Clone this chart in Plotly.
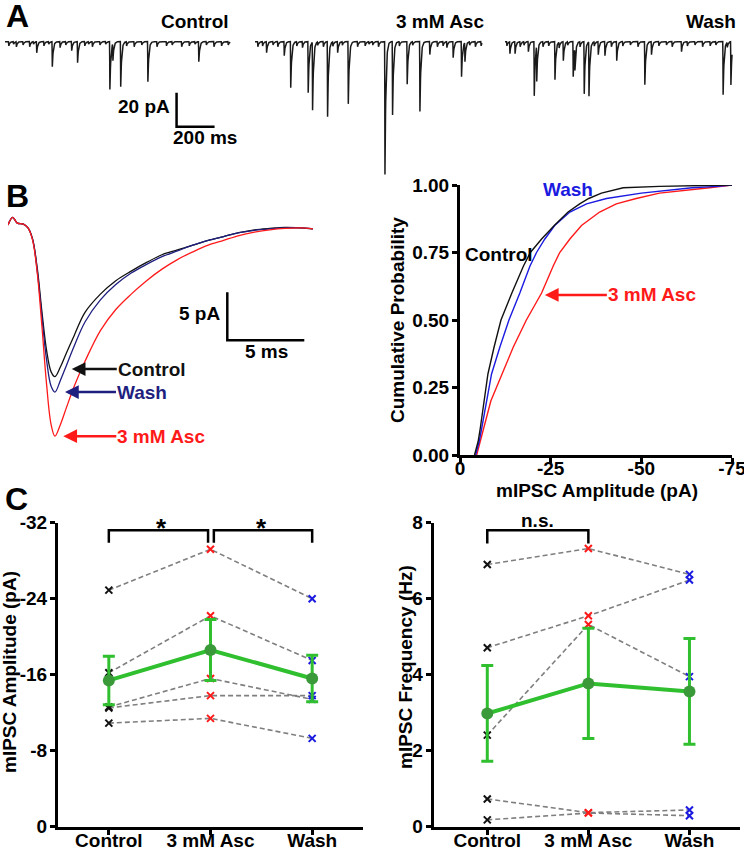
import numpy as np
import plotly.graph_objects as go

W, H = 744, 853
FONT = "Liberation Sans, Arial, sans-serif"


def px(x):
    return x / W


def py(y):
    return 1 - y / H


# ---------------- Panel A: raw traces (event times in ms, amplitudes in pA) --------
trace_labels = ["Control", "3 mM Asc", "Wash"]
ctrl_event_t = [167, 249, 351, 382, 552, 568, 609, 752, 1020]
ctrl_event_a = [6.5, 14.7, 5.3, 12.4, 28.0, 10.0, 26.5, 23.5, 11.8]
ctrl_minor_t = [20, 45, 60, 95, 130, 150, 205, 230, 290, 320, 420, 440, 460, 500, 530, 640, 680, 720, 800,
                850, 880, 930, 970, 1000, 1060, 1100, 1140, 1175]
ctrl_minor_a = [2.5, 1.5, 3.0, 2.0, 3.0, 1.5, 2.5, 1.5, 3.5, 2.0, 2.5, 1.5, 3.0, 2.0, 1.5, 2.5, 3.0, 2.0, 3.0,
                2.5, 2.0, 3.0, 2.5, 1.5, 2.0, 3.0, 2.5, 2.0]

asc_event_t = [61, 154, 188, 280, 303, 382, 435, 491, 684, 724, 801, 868, 920, 1043, 1087, 1105]
asc_event_a = [6.5, 8.2, 27.0, 30.0, 40.0, 44.0, 6.5, 36.5, 78.0, 43.0, 25.0, 41.0, 7.6, 9.4, 20.6, 11.2]
asc_minor_t = [15, 40, 95, 120, 220, 250, 330, 360, 410, 460, 540, 580, 600, 620, 650, 760, 830, 960, 990,
               1010, 1130, 1160, 1190]
asc_minor_a = [3.0, 2.5, 2.0, 3.0, 2.5, 3.5, 2.0, 3.0, 2.5, 2.0, 3.0, 2.5, 1.5, 2.0, 3.0, 2.5, 2.0, 3.0, 2.5,
               3.5, 2.0, 3.0, 2.5]

wash_event_t = [26, 53, 123, 154, 167, 263, 307, 359, 368, 417, 442, 491, 526, 588, 736, 771, 929, 1148, 1189]
wash_event_a = [7.0, 7.0, 5.9, 31.8, 21.0, 22.4, 11.2, 20.6, 13.5, 30.6, 31.8, 7.6, 8.2, 11.2, 25.3, 7.6, 5.9,
                31.2, 25.3]
wash_minor_t = [10, 80, 100, 200, 230, 285, 330, 395, 470, 560, 620, 660, 700, 810, 850, 880, 960, 1000, 1040,
                1080, 1110, 1170]
wash_minor_a = [2.5, 3.0, 2.0, 3.0, 2.5, 3.5, 2.0, 3.0, 2.5, 3.0, 2.5, 2.0, 3.0, 2.5, 2.0, 3.0, 2.5, 2.0, 3.0,
                2.5, 2.0, 3.0]

trace_end_ms = [1185, 1195, 1195]

# ---------------- Panel B left: averaged mIPSC (ms, pA) ---------------------------
ipsc_t = [0, 0.3, 0.6, 1.0, 1.3, 1.6, 1.9, 2.2, 2.5, 2.8, 3.05, 3.4, 3.8, 4.3, 5, 6, 7, 8, 9, 10,
          11, 12, 13, 14, 15, 16, 17, 18, 19, 19.8]
ipsc_control = [0, 0.8, 0.2, 0.1, -0.3, -1.5, -4.5, -9.0, -13.0, -15.3, -15.8, -14.8, -13.3, -11.5, -9.1,
                -7.2, -5.8, -4.8, -3.9, -3.1, -2.6, -2.1, -1.6, -1.2, -0.8, -0.5, -0.35, -0.25, -0.3, -0.4]
ipsc_wash = [0, 0.8, 0.2, 0.1, -0.3, -1.5, -4.8, -9.5, -14.0, -16.8, -17.4, -16.2, -14.6, -12.6, -10.1,
             -7.8, -6.2, -5.0, -4.1, -3.3, -2.7, -2.1, -1.6, -1.2, -0.8, -0.55, -0.4, -0.3, -0.3, -0.4]
ipsc_asc = [0, 0.8, 0.2, 0.1, -0.3, -1.6, -5.0, -10.5, -16.5, -20.8, -22.0, -20.8, -19.0, -16.8, -14.2,
            -11.0, -8.8, -7.2, -5.8, -4.6, -3.6, -2.8, -2.1, -1.6, -1.1, -0.75, -0.5, -0.35, -0.3, -0.4]

# ---------------- Panel B right: cumulative distributions -------------------------
cdf_prob = [0, 0.05, 0.1, 0.2, 0.3, 0.4, 0.5, 0.6, 0.7, 0.75, 0.8, 0.85, 0.9, 0.93, 0.95, 0.97, 0.99, 0.995, 1.0]
cdf_control = [-4.0, -5.0, -5.6, -6.6, -7.7, -9.4, -11.3, -14.3, -17.5, -19.4, -22.5, -26.0, -29.8, -33.0,
               -35.5, -39.0, -45.0, -55.0, -75.0]
cdf_wash = [-4.3, -5.3, -6.0, -7.3, -8.7, -11.0, -13.5, -16.5, -19.3, -21.1, -23.4, -26.1, -30.3, -34.9,
            -40.4, -50.0, -64.0, -71.0, -75.0]
cdf_asc = [-4.6, -5.6, -6.4, -8.5, -11.6, -14.7, -18.3, -22.5, -25.7, -27.5, -30.3, -33.5, -38.5, -43.1,
           -48.6, -55.0, -68.8, -73.0, -75.0]

# ---------------- Panel C: per-cell values and mean +/- SEM -----------------------
conditions = ["Control", "3 mM Asc", "Wash"]
amp_control = [-24.9, -16.2, -12.6, -12.5, -10.9]
amp_asc = [-29.2, -22.2, -15.6, -13.8, -11.4]
amp_wash = [-24.0, -17.5, -13.4, -13.8, -9.3]
amp_mean = [-15.4, -18.6, -15.6]
amp_sem = [2.55, 3.2, 2.45]

freq_control = [6.90, 4.71, 2.41, 0.73, 0.18]
freq_asc = [7.32, 5.55, 5.32, 0.37, 0.36]
freq_wash = [6.64, 6.49, 3.95, 0.44, 0.29]
freq_mean = [2.98, 3.77, 3.56]
freq_sem = [1.26, 1.45, 1.39]

amp_ticks = [0, -8, -16, -24, -32]
freq_ticks = [0, 2, 4, 6, 8]
cdf_xticks = [0, -25, -50, -75]
cdf_yticks = [0, 0.25, 0.5, 0.75, 1.0]

COL_CTRL = "#111111"
COL_ASC = "#ff1a1a"
COL_WASH_B = "#1f1f80"
COL_WASH = "#1a1ae0"
COL_GREEN = "#2fbf2f"
COL_GREEN_DOT = "#3a9a3a"

fig = go.Figure()


def build_trace(ev_t, ev_a, mn_t, mn_a, t_end):
    t = np.arange(0, t_end + 1, 1.0)
    cur = np.zeros_like(t)
    for t0, a in list(zip(ev_t, ev_a)) + list(zip(mn_t, mn_a)):
        dt = t - t0
        k = np.where(dt < -1.5, 0.0, np.where(dt < 0, (dt + 1.5) / 1.5, np.exp(-np.clip(dt, 0, None) / 5.0)))
        cur -= a * k
    return t, cur


traces_A = [
    (ctrl_event_t, ctrl_event_a, ctrl_minor_t, ctrl_minor_a),
    (asc_event_t, asc_event_a, asc_minor_t, asc_minor_a),
    (wash_event_t, wash_event_a, wash_minor_t, wash_minor_a),
]
for i, (et, ea, mt, ma) in enumerate(traces_A):
    t, cur = build_trace(et, ea, mt, ma, trace_end_ms[i])
    ax = "" if i == 0 else str(i + 1)
    fig.add_trace(go.Scatter(x=t, y=cur, mode="lines", line=dict(color="#1a1a1a", width=1.5),
                             xaxis="x" + ax, yaxis="y" + ax, hoverinfo="skip"))

# scale bar A (20 pA, 200 ms) in control-trace axes
fig.add_trace(go.Scatter(x=[903, 903, 1103], y=[-30, -50, -50], mode="lines",
                         line=dict(color="black", width=2.5), xaxis="x", yaxis="y"))

# Panel B left
for yv, col in [(ipsc_control, COL_CTRL), (ipsc_wash, COL_WASH_B), (ipsc_asc, COL_ASC)]:
    fig.add_trace(go.Scatter(x=ipsc_t, y=yv, mode="lines", line=dict(color=col, width=1.3, shape="spline"),
                             xaxis="x4", yaxis="y4"))
fig.add_trace(go.Scatter(x=[14.24, 14.24, 19.24], y=[-7, -12, -12], mode="lines",
                         line=dict(color="black", width=2.5), xaxis="x4", yaxis="y4"))

# Panel B right
for xv, col in [(cdf_asc, COL_ASC), (cdf_wash, COL_WASH), (cdf_control, COL_CTRL)]:
    fig.add_trace(go.Scatter(x=xv, y=cdf_prob, mode="lines", line=dict(color=col, width=1.4),
                             xaxis="x5", yaxis="y5"))


def panel_c(ctrl, asc, wash, mean, sem, xa, ya):
    for a, b, c in zip(ctrl, asc, wash):
        fig.add_trace(go.Scatter(x=[0, 1, 2], y=[a, b, c], mode="lines",
                                 line=dict(color="#7f7f7f", width=1.6, dash="5px,3px"),
                                 xaxis=xa, yaxis=ya))
    for xi, vals, col in [(0, ctrl, COL_CTRL), (1, asc, COL_ASC), (2, wash, COL_WASH)]:
        fig.add_trace(go.Scatter(x=[xi] * len(vals), y=vals, mode="markers",
                                 marker=dict(symbol="x-thin", size=7, line=dict(color=col, width=2)),
                                 xaxis=xa, yaxis=ya, cliponaxis=False))
    fig.add_trace(go.Scatter(x=[0, 1, 2], y=mean, mode="lines+markers",
                             line=dict(color=COL_GREEN, width=4),
                             marker=dict(size=12, color=COL_GREEN_DOT),
                             error_y=dict(type="data", array=sem, color=COL_GREEN, thickness=3, width=6),
                             xaxis=xa, yaxis=ya))


panel_c(amp_control, amp_asc, amp_wash, amp_mean, amp_sem, "x6", "y6")
panel_c(freq_control, freq_asc, freq_wash, freq_mean, freq_sem, "x7", "y7")

# significance brackets
fig.add_trace(go.Scatter(x=[0, 0, 0.976, 0.976], y=[-29.9, -31.2, -31.2, -29.9], mode="lines",
                         line=dict(color="black", width=2.5), xaxis="x6", yaxis="y6"))
fig.add_trace(go.Scatter(x=[1.033, 1.033, 2, 2], y=[-29.9, -31.2, -31.2, -29.9], mode="lines",
                         line=dict(color="black", width=2.5), xaxis="x6", yaxis="y6"))
fig.add_trace(go.Scatter(x=[0, 0, 1, 1], y=[7.45, 7.8, 7.8, 7.45], mode="lines",
                         line=dict(color="black", width=2.5), xaxis="x7", yaxis="y7"))

tickfont = dict(family=FONT, size=19, color="black", weight="bold")
hidden = dict(visible=False, showgrid=False, zeroline=False, fixedrange=True, automargin=False)
axis_style = dict(showline=True, linewidth=3, linecolor="black", ticks="outside", ticklen=5,
                  tickwidth=2.5, tickcolor="black", showgrid=False, zeroline=False, tickfont=tickfont,
                  fixedrange=True, automargin=False)
xstand = dict(ticklabelstandoff=-11)
ystand = dict(ticklabelstandoff=-1)

layout = dict(
    width=W, height=H, autosize=False,
    margin=dict(l=0, r=0, t=0, b=0, pad=0, autoexpand=False),
    paper_bgcolor="white", plot_bgcolor="white",
    showlegend=False, font=dict(family=FONT, size=19, color="black", weight="bold"),
    xaxis=dict(domain=[px(5), px(233)], range=[0, 1200], anchor="y", **hidden),
    yaxis=dict(domain=[py(178), py(28)], range=[-80, 8], anchor="x", **hidden),
    xaxis2=dict(domain=[px(255), px(483)], range=[0, 1200], anchor="y2", **hidden),
    yaxis2=dict(domain=[py(178), py(28)], range=[-80, 8], anchor="x2", **hidden),
    xaxis3=dict(domain=[px(505), px(733)], range=[0, 1200], anchor="y3", **hidden),
    yaxis3=dict(domain=[py(178), py(28)], range=[-80, 8], anchor="x3", **hidden),
    xaxis4=dict(domain=[px(8), px(316)], range=[0, 20], anchor="y4", **hidden),
    yaxis4=dict(domain=[py(455.4), py(205.8)], range=[-24, 2], anchor="x4", **hidden),
    xaxis5=dict(domain=[px(460), px(732)], range=[0, -75], anchor="y5", tickvals=cdf_xticks,
                ticktext=[str(v) for v in cdf_xticks], ticklabeloverflow="allow", **axis_style, **xstand),
    yaxis5=dict(domain=[py(455), py(185)], range=[0, 1], anchor="x5", tickvals=cdf_yticks,
                ticktext=["%.2f" % v for v in cdf_yticks], **axis_style, **ystand),
    xaxis6=dict(domain=[px(58), px(363)], range=[-0.5, 2.5], anchor="y6", tickvals=[0, 1, 2],
                ticktext=conditions, **axis_style, **xstand),
    yaxis6=dict(domain=[py(826.7), py(522.7)], range=[0, -32], anchor="x6", tickvals=amp_ticks,
                ticktext=[str(v) for v in amp_ticks], ticklabeloverflow="allow", **axis_style, **ystand),
    xaxis7=dict(domain=[px(433.7), px(740)], range=[-0.53, 2.5], anchor="y7", tickvals=[0, 1, 2],
                ticktext=conditions, **axis_style, **xstand),
    yaxis7=dict(domain=[py(826.7), py(522.7)], range=[0, 8], anchor="x7", tickvals=freq_ticks,
                ticktext=[str(v) for v in freq_ticks], **axis_style, **ystand),
)


def txt(text, x, y, size=19, color="black", xanchor="center", yanchor="middle", angle=0):
    return dict(text=text, x=px(x), y=py(y), xref="paper", yref="paper", showarrow=False,
                xanchor=xanchor, yanchor=yanchor, textangle=angle,
                font=dict(family=FONT, size=size, color=color, weight="bold"))


def arrow(text, xa, ya, x, y, axpix, color):
    return dict(text=text, x=x, y=y, xref=xa, yref=ya, showarrow=True, ax=axpix, ay=0,
                xanchor="left", yanchor="middle", arrowhead=2, arrowsize=1.1, arrowwidth=2.5,
                arrowcolor=color, standoff=0, borderpad=0,
                font=dict(family=FONT, size=19, color=color, weight="bold"))


annotations = [
    txt("A", 17, 16, size=32), txt("B", 17, 196, size=32), txt("C", 16, 499, size=32),
    txt(trace_labels[0], 231, 21, xanchor="right"),
    txt(trace_labels[1], 486, 21, xanchor="right"),
    txt(trace_labels[2], 738, 21, xanchor="right"),
    txt("20 pA", 172, 106, xanchor="right"),
    txt("200 ms", 205, 138),
    txt("5 pA", 222, 313, xanchor="right"),
    txt("5 ms", 266, 352),
    arrow("Control", "x4", "y4", 4.14, -15.0, 45, COL_CTRL),
    arrow("Wash", "x4", "y4", 3.70, -17.4, 51, COL_WASH_B),
    arrow("3 mM Asc", "x4", "y4", 3.59, -22.0, 53, COL_ASC),
    txt("Wash", 568, 190, color=COL_WASH),
    txt("Control", 499, 254),
    arrow("3 mM Asc", "x5", "y5", -23.4, 0.593, 62, COL_ASC),
    txt("Cumulative Probability", 397, 320, angle=-90),
    txt("mIPSC Amplitude (pA)", 597, 490),
    txt("mIPSC Amplitude (pA)", 9, 672, angle=-90),
    txt("mIPSC Frequency (Hz)", 405, 667, angle=-90),
    txt("*", 161.7, 528, size=26),
    txt("*", 261.7, 528, size=26),
    txt("n.s.", 537, 520),
]
layout["annotations"] = annotations
fig.update_layout(**layout)
fig.write_html("out.html", config={"displayModeBar": False},
               post_script="document.body.style.margin='0px';document.body.style.overflow='hidden';")
